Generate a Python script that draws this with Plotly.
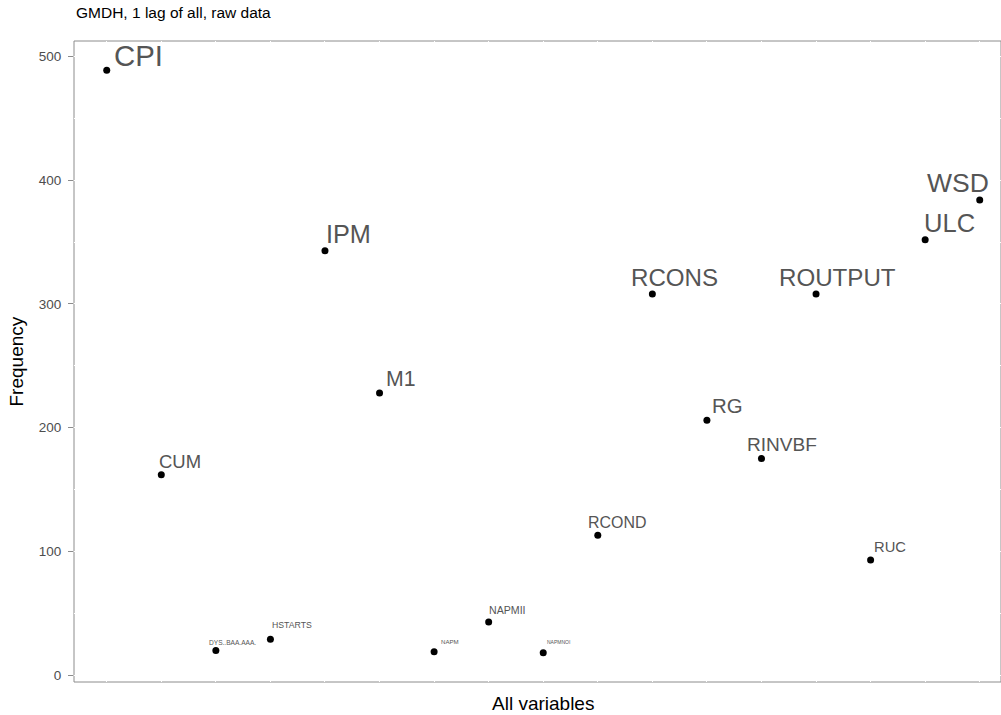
import numpy as np
import plotly.graph_objects as go

# Selection frequency of each input variable
variables = ["CPI", "CUM", "DYS..BAA.AAA.", "HSTARTS", "IPM", "M1", "NAPM", "NAPMII",
             "NAPMNOI", "RCOND", "RCONS", "RG", "RINVBF", "ROUTPUT", "RUC", "ULC", "WSD"]
frequency = [489, 162, 20, 29, 343, 228, 19, 43, 18, 113, 308, 206, 175, 308, 93, 352, 384]

# Label placement next to each point, in pixels: left-edge offset and baseline rise
label_dx = [6, -3, -8, 1, 0, 5, 6, -1, 3, -11, -22, 4, -15, -38, 2, -2, -54]
label_dy = [3, 6, 5, 10, 7, 6, 7, 7, 8, 7, 7, 7, 7, 7, 7, 7, 7]

FONT = "Liberation Sans, Arial, sans-serif"
x_idx = np.arange(len(variables))
freq = np.asarray(frequency, dtype=float)

# label size grows with the square root of the frequency (area scale)
lo, hi = freq.min(), freq.max()
label_size = 5.0 + 24.4 * np.sqrt((freq - lo) / (hi - lo))

fig = go.Figure()
fig.add_trace(go.Scatter(
    x=x_idx, y=freq, mode="markers",
    marker=dict(color="black", size=7),
    hoverinfo="text", text=variables, showlegend=False,
))

annotations = []
for i, (name, v) in enumerate(zip(variables, freq)):
    s = float(label_size[i])
    annotations.append(dict(
        x=int(x_idx[i]), y=float(v), xref="x", yref="y",
        text=name, showarrow=False, xanchor="left", yanchor="bottom",
        borderpad=0, xshift=label_dx[i], yshift=label_dy[i] - 0.212 * s,
        font=dict(family=FONT, size=s, color="#555555"),
    ))

# titles
annotations.append(dict(
    text="GMDH, 1 lag of all, raw data", xref="paper", yref="paper",
    x=0, y=1.0437, xanchor="left", yanchor="middle", showarrow=False,
    font=dict(family=FONT, size=15.5, color="black"),
))
annotations.append(dict(
    text="All variables", xref="x", yref="paper", x=8, y=-0.033,
    xanchor="center", yanchor="middle", showarrow=False,
    font=dict(family=FONT, size=19, color="black"),
))
annotations.append(dict(
    text="Frequency", xref="paper", yref="paper", x=-0.0615, y=0.5,
    xanchor="center", yanchor="middle", textangle=-90, showarrow=False,
    font=dict(family=FONT, size=19, color="black"),
))

span = hi - lo
fig.update_layout(
    width=1001, height=715,
    margin=dict(l=74, r=0, t=41, b=33),
    paper_bgcolor="white", plot_bgcolor="white",
    font=dict(family=FONT),
    annotations=annotations,
    shapes=[dict(type="rect", xref="paper", yref="paper", x0=0, x1=1, y0=0, y1=1,
                 layer="below", line=dict(color="#8c8c8c", width=1))],
    xaxis=dict(
        range=[-0.6, 16.39], tickmode="array", tickvals=list(x_idx),
        showticklabels=False, ticks="", showgrid=True, gridcolor="white",
        gridwidth=1, zeroline=False, showline=False,
    ),
    yaxis=dict(
        range=[lo - 0.05 * span, hi + 0.05 * span], tick0=0, dtick=100,
        ticks="outside", ticklen=5, tickwidth=1, tickcolor="#8c8c8c",
        ticklabelstandoff=4,
        tickfont=dict(family=FONT, size=13.5, color="#4d4d4d"),
        showgrid=True, gridcolor="white", gridwidth=1,
        minor=dict(dtick=50, showgrid=True, gridcolor="white", gridwidth=0.6),
        zeroline=False, showline=False,
    ),
)

fig.write_html("out.html")
